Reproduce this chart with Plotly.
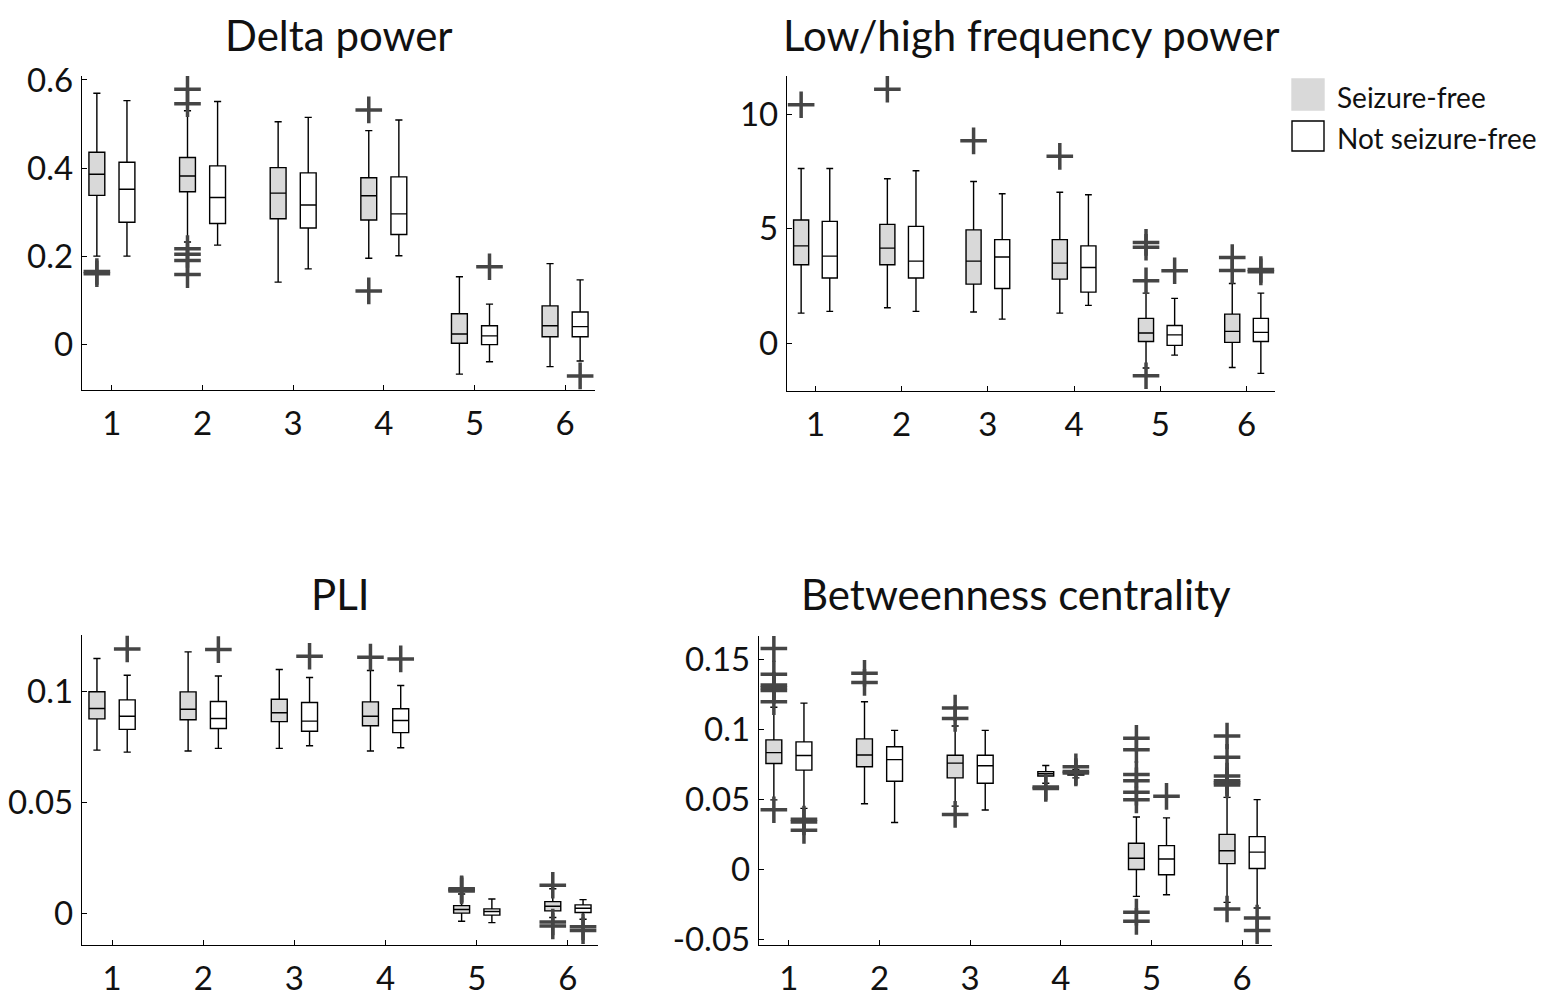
import plotly.graph_objects as go
from plotly.subplots import make_subplots

W, H = 1547, 1003
PAD = 8  # page body margin in the browser, compensated in pixel positions
FONT = 'Lato'
GREY = '#d9d9d9'
OUT_COLOR = '#454545'
OFFSET = 0.166
BOX_W = 0.175

CATEGORIES = [1, 2, 3, 4, 5, 6]
GROUPS = ['Seizure-free', 'Not seizure-free']
TITLES = ['Delta power', 'Low/high frequency power', 'PLI', 'Betweenness centrality']

# per category: (lower whisker, q1, median, q3, upper whisker)
DELTA_SF = [(0.200, 0.338, 0.386, 0.436, 0.570),
            (0.232, 0.346, 0.382, 0.424, 0.530),
            (0.141, 0.285, 0.343, 0.401, 0.505),
            (0.195, 0.282, 0.337, 0.378, 0.485),
            (-0.068, 0.002, 0.023, 0.069, 0.153),
            (-0.051, 0.017, 0.042, 0.087, 0.183)]
DELTA_SF_OUT = [[0.160, 0.165], [0.579, 0.546, 0.217, 0.204, 0.190, 0.158], [],
                [0.532, 0.121], [], []]
DELTA_NSF = [(0.200, 0.277, 0.352, 0.413, 0.553),
             (0.225, 0.274, 0.333, 0.405, 0.551),
             (0.171, 0.264, 0.316, 0.389, 0.515),
             (0.201, 0.249, 0.296, 0.380, 0.509),
             (-0.040, -0.001, 0.019, 0.042, 0.091),
             (-0.038, 0.017, 0.040, 0.073, 0.146)]
DELTA_NSF_OUT = [[], [], [], [], [0.176], [-0.072]]

LHF_SF = [(1.31, 3.43, 4.26, 5.39, 7.65),
          (1.55, 3.43, 4.16, 5.20, 7.20),
          (1.36, 2.58, 3.59, 4.96, 7.08),
          (1.31, 2.80, 3.50, 4.53, 6.61),
          (-1.09, 0.07, 0.44, 1.08, 2.19),
          (-1.07, 0.03, 0.51, 1.27, 2.61)]
LHF_SF_OUT = [[10.44], [11.12], [8.86], [8.18], [4.41, 4.20, 2.73, -1.43], [3.75, 3.18]]
LHF_NSF = [(1.39, 2.85, 3.81, 5.33, 7.65),
           (1.39, 2.85, 3.59, 5.11, 7.55),
           (1.05, 2.39, 3.77, 4.53, 6.54),
           (1.65, 2.23, 3.31, 4.26, 6.50),
           (-0.53, -0.10, 0.36, 0.77, 1.96),
           (-1.33, 0.07, 0.47, 1.08, 2.19)]
LHF_NSF_OUT = [[], [], [], [], [3.17], [3.12, 3.22]]

PLI_SF = [(0.0736, 0.0877, 0.0924, 0.1000, 0.1150),
          (0.0732, 0.0873, 0.0921, 0.0999, 0.1180),
          (0.0744, 0.0865, 0.0905, 0.0966, 0.1100),
          (0.0732, 0.0846, 0.0889, 0.0954, 0.1096),
          (-0.0037, 0.0000, 0.0016, 0.0034, 0.0086),
          (-0.0020, 0.0010, 0.0031, 0.0052, 0.0110)]
PLI_SF_OUT = [[], [], [], [0.1156], [0.0100, 0.0106, 0.0110], [0.0126, -0.0040, -0.0058]]
PLI_NSF = [(0.0727, 0.0830, 0.0889, 0.0963, 0.1074),
           (0.0744, 0.0834, 0.0879, 0.0956, 0.1071),
           (0.0756, 0.0821, 0.0867, 0.0951, 0.1064),
           (0.0747, 0.0815, 0.0870, 0.0923, 0.1028),
           (-0.0043, -0.0009, 0.0007, 0.0019, 0.0064),
           (-0.0028, 0.0003, 0.0022, 0.0037, 0.0061)]
PLI_NSF_OUT = [[0.1193], [0.1190], [0.1160], [0.1148], [], [-0.0062, -0.0079]]

BC_SF = [(0.0498, 0.0758, 0.0836, 0.0927, 0.1160),
         (0.0470, 0.0735, 0.0819, 0.0934, 0.1200),
         (0.0453, 0.0655, 0.0761, 0.0817, 0.1026),
         (0.0617, 0.0669, 0.0685, 0.0700, 0.0744),
         (-0.0192, 0.0000, 0.0080, 0.0188, 0.0376),
         (-0.0235, 0.0042, 0.0134, 0.0251, 0.0516)]
BC_SF_OUT = [[0.1580, 0.1397, 0.1280, 0.1300, 0.1320, 0.1200, 0.0427],
             [0.1404, 0.1338],
             [0.1155, 0.1080, 0.0394],
             [0.0580, 0.0590],
             [0.0939, 0.0857, 0.0680, 0.0634, 0.0552, 0.0498, -0.0305, -0.0371],
             [0.0955, 0.0803, 0.0669, 0.0634, 0.0620, 0.0605, -0.0282]]
BC_NSF = [(0.0437, 0.0711, 0.0815, 0.0913, 0.1190),
          (0.0336, 0.0631, 0.0786, 0.0878, 0.0995),
          (0.0425, 0.0617, 0.0742, 0.0817, 0.0995),
          (0.0655, 0.0675, 0.0683, 0.0695, 0.0715),
          (-0.0181, -0.0038, 0.0075, 0.0171, 0.0369),
          (-0.0275, 0.0007, 0.0124, 0.0235, 0.0500)]
BC_NSF_OUT = [[0.0340, 0.0360, 0.0280], [], [], [0.0735, 0.0690, 0.0700], [0.0523],
              [-0.0347, -0.0437]]

Y_RANGES = [[-0.104, 0.609], [-2.1, 11.7], [-0.0144, 0.1256], [-0.054, 0.167]]
Y_TICKS = [[0, 0.2, 0.4, 0.6], [0, 5, 10], [0, 0.05, 0.1], [-0.05, 0, 0.05, 0.1, 0.15]]
Y_TICKTEXT = [['0', '0.2', '0.4', '0.6'], ['0', '5', '10'], ['0', '0.05', '0.1'],
              ['-0.05', '0', '0.05', '0.1', '0.15']]

# panel boxes in screen pixels: (left, right, top, bottom)
PANELS = [(82, 595, 76, 390), (787, 1275, 76, 391), (82, 598, 635, 945), (759, 1272, 636, 945)]
TITLE_TOP = [8, 8, 567, 567]


def px(x):
    return (x - PAD) / W


def py(y):
    return 1 - (y - PAD) / H


def add_group(fig, stats, outliers, fill, shift, row, col):
    lo, q1, med, q3, hi = zip(*stats)
    xs = [c + shift for c in CATEGORIES]
    fig.add_trace(go.Box(x=xs, q1=q1, median=med, q3=q3, lowerfence=lo, upperfence=hi,
                         width=BOX_W, fillcolor=fill, orientation='v',
                         line=dict(color='black', width=1.4), whiskerwidth=0.45,
                         boxpoints=False, showlegend=False),
                  row=row, col=col)
    ox = [c + shift for c, vals in zip(CATEGORIES, outliers) for _ in vals]
    oy = [v for vals in outliers for v in vals]
    fig.add_trace(go.Scatter(x=ox, y=oy, mode='markers',
                             marker=dict(symbol='cross-thin', size=19,
                                         line=dict(width=3.5, color=OUT_COLOR)),
                             showlegend=False),
                  row=row, col=col)


fig = make_subplots(rows=2, cols=2)

panels_data = [(DELTA_SF, DELTA_SF_OUT, DELTA_NSF, DELTA_NSF_OUT),
               (LHF_SF, LHF_SF_OUT, LHF_NSF, LHF_NSF_OUT),
               (PLI_SF, PLI_SF_OUT, PLI_NSF, PLI_NSF_OUT),
               (BC_SF, BC_SF_OUT, BC_NSF, BC_NSF_OUT)]

for i, (sf, sf_out, nsf, nsf_out) in enumerate(panels_data):
    row, col = i // 2 + 1, i % 2 + 1
    add_group(fig, sf, sf_out, GREY, -OFFSET, row, col)
    add_group(fig, nsf, nsf_out, 'white', OFFSET, row, col)

    left, right, top, bottom = PANELS[i]
    axis_style = dict(showline=True, linecolor='black', linewidth=1.4, showgrid=False,
                      zeroline=False, ticks='inside', ticklen=5, tickcolor='black',
                      tickwidth=1.2, automargin=False,
                      tickfont=dict(family=FONT, size=33, color='#111111'))
    fig.update_xaxes(domain=[px(left), px(right)], range=[0.67, 6.33],
                     tickvals=CATEGORIES, ticktext=[str(c) for c in CATEGORIES],
                     ticklabelstandoff=4, row=row, col=col, **axis_style)
    fig.update_yaxes(domain=[py(bottom), py(top)], range=Y_RANGES[i],
                     tickvals=Y_TICKS[i], ticktext=Y_TICKTEXT[i],
                     ticklabelstandoff=1, row=row, col=col, **axis_style)
    fig.add_annotation(text=TITLES[i], xref='paper', yref='paper',
                       x=px((left + right) / 2), y=py(TITLE_TOP[i]),
                       xanchor='center', yanchor='top', showarrow=False,
                       font=dict(family=FONT, size=42, color='#111111'))

# legend patches
legend_items = [(GROUPS[0], GREY, GREY, 79, 110, 97), (GROUPS[1], 'white', 'black', 121, 151, 138)]
for label, fill, edge, y0, y1, ty in legend_items:
    fig.add_shape(type='rect', xref='paper', yref='paper',
                  x0=px(1292), x1=px(1324), y0=py(y1), y1=py(y0),
                  fillcolor=fill, line=dict(color=edge, width=1.4))
    fig.add_annotation(text=label, xref='paper', yref='paper', x=px(1335), y=py(ty),
                       xanchor='left', yanchor='middle', showarrow=False,
                       font=dict(family=FONT, size=28, color='#111111'))

fig.update_layout(width=W, height=H, margin=dict(l=0, r=0, t=0, b=0, autoexpand=False),
                  paper_bgcolor='white', plot_bgcolor='white', boxmode='overlay',
                  showlegend=False)

fig.write_html("out.html")
